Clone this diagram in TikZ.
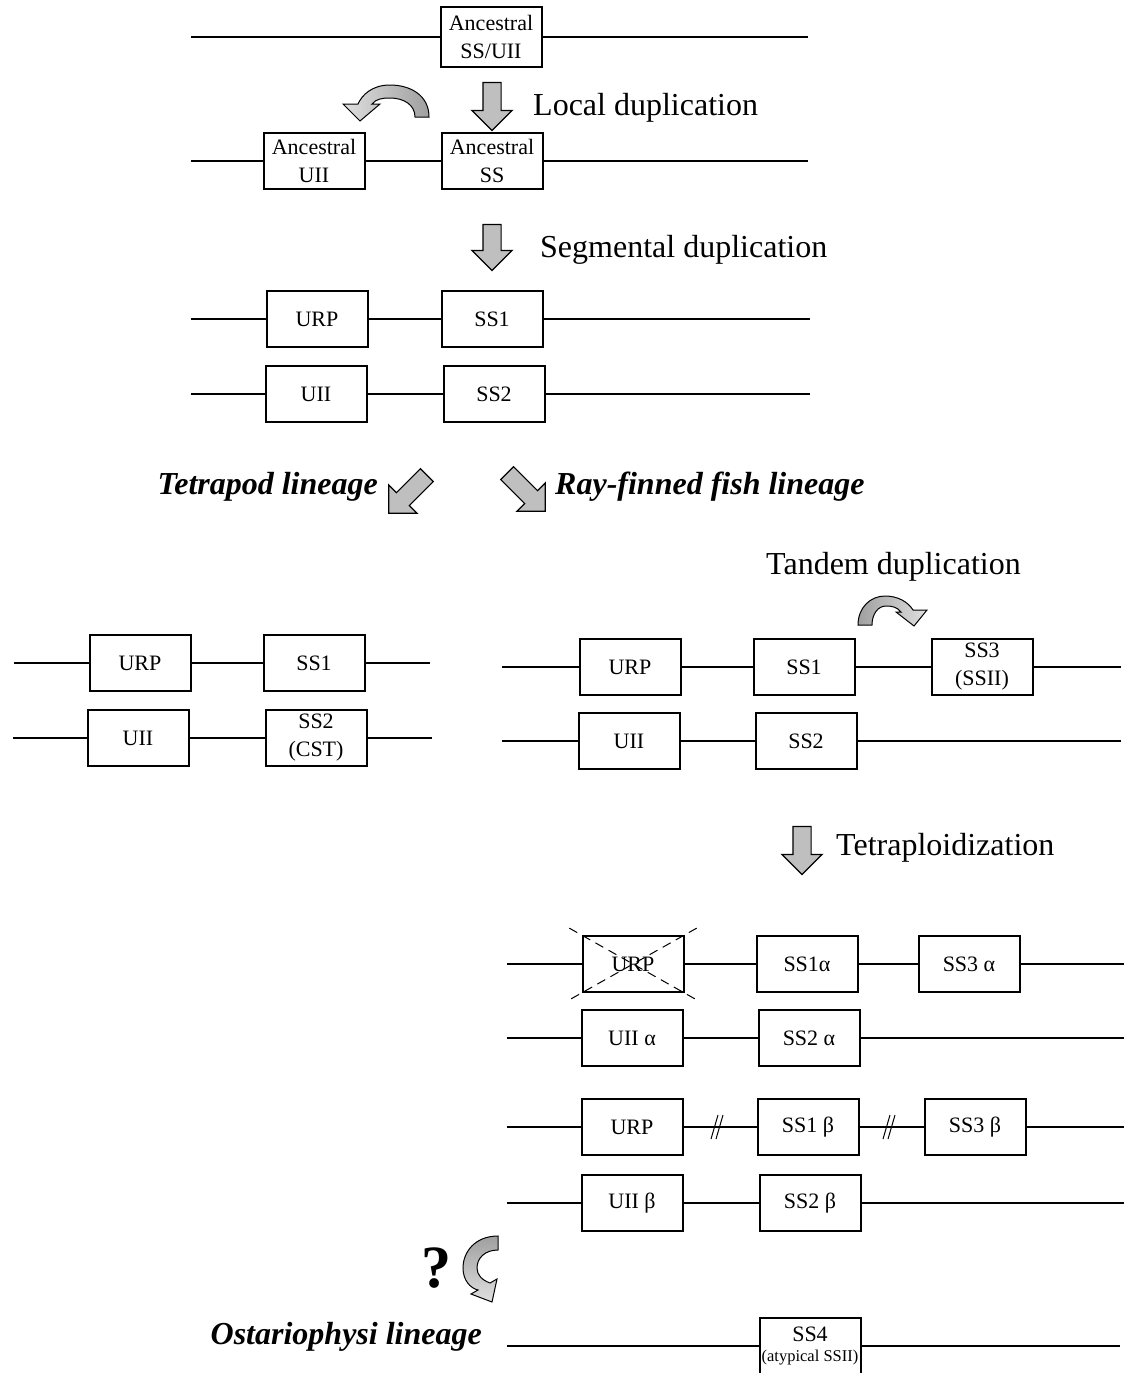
\documentclass[tikz,border=0pt]{standalone}
\usepackage{fontspec}
\setmainfont{Liberation Serif}
\usetikzlibrary{shapes.arrows}
\newcommand\genefont{\fontsize{22}{28}\selectfont}
\newcommand\tinygenefont{\fontsize{16.5}{18}\selectfont}
\newcommand\stepfont{\fontsize{32}{38}\selectfont}
\newcommand\linfont{\fontsize{32}{38}\selectfont\bfseries\itshape}
\newcommand\chrbreak[1]{%
    \draw[line width=1pt] ([shift={(-6,12)}]#1) -- ++(7,-24)
                          ([shift={(-1,12)}]#1) -- ++(7,-24);}
\tikzset{
    %Define style for gene boxes
    gene/.style={
           rectangle,
           draw=black, line width=2pt,
           fill=white,
           minimum width=101pt,
           minimum height=56pt,
           inner sep=0pt,
           align=center,
           font=\genefont},
    %Define style for chromosome lines
    chrom/.style={line width=2pt},
    %Define style for grey block arrows
    blockarrow/.style={
           single arrow,
           draw=black, line width=1.2pt,
           fill=gray!50,
           minimum height=48pt,
           single arrow head extend=11pt,
           inner xsep=0pt,
           inner ysep=8.5pt},
    curvarrow/.style={draw=black, line width=1pt},
    steplabel/.style={font=\stepfont, anchor=base west, inner sep=0pt},
    linlabel/.style={font=\linfont, inner sep=0pt},
    crossout/.style={line width=1pt, dash pattern=on 9pt off 6pt,
           shorten <=-14pt, shorten >=-14pt}
}
\begin{document}
\begin{tikzpicture}[x=1pt,y=-1pt]
\useasboundingbox (0,0) rectangle (1125,1373);
 %ancestral chromosome
\coordinate (c1l) at (191,37);
\coordinate (c1r) at (808,37);
\node[gene, minimum height=60pt] (anc) at (491,37) {Ancestral\\SS/UII};
\draw[chrom] (c1l) -- (anc) -- (c1r);
 %local duplication
\node[blockarrow, rotate=-90] (locarrow) at (492,102) {};
\node[steplabel] (loclabel) at (533,115) {Local duplication};
\path[curvarrow, left color=gray!25, right color=gray!75]
    (429,117) .. controls (429,95) and (410,85) .. (390,85)
    .. controls (372,85) and (362,95) .. (358,104) -- (343,104) -- (360,121)
    -- (380,104) -- (372,104) .. controls (376,99) and (382,98) .. (390,98)
    .. controls (404,98) and (415,105) .. (415,117) -- cycle;
\coordinate (c2l) at (191,161);
\coordinate (c2r) at (808,161);
\node[gene] (ancuii) at (314,161) {Ancestral\\UII};
\node[gene] (ancss) at (492,161) {Ancestral\\SS};
\draw[chrom] (c2l) -- (ancuii) -- (ancss) -- (c2r);
 %segmental duplication
\node[blockarrow, rotate=-90, minimum height=46pt] (segarrow) at (492,243) {};
\node[steplabel] (seglabel) at (540,257) {Segmental duplication};
\coordinate (c3l) at (191,319);
\coordinate (c3r) at (810,319);
\node[gene] (urp3) at (317,319) {URP};
\node[gene] (ss13) at (492,319) {SS1};
\draw[chrom] (c3l) -- (urp3) -- (ss13) -- (c3r);
\coordinate (c4l) at (191,394);
\coordinate (c4r) at (810,394);
\node[gene] (uii4) at (316,394) {UII};
\node[gene] (ss24) at (494,394) {SS2};
\draw[chrom] (c4l) -- (uii4) -- (ss24) -- (c4r);
 %lineages
\node[blockarrow, rotate=-135, minimum height=54pt] (tetarrow) at (411,491) {};
\node[blockarrow, rotate=-45, minimum height=54pt] (rayarrow) at (523,489) {};
\node[linlabel, anchor=base east] (tetlabel) at (378,494) {Tetrapod lineage};
\node[linlabel, anchor=base west] (raylabel) at (555,494) {Ray-finned fish lineage};
 %tetrapods
\coordinate (cal) at (14,663);
\coordinate (car) at (430,663);
\node[gene] (urpa) at (140,663) {URP};
\node[gene] (ss1a) at (314,663) {SS1};
\draw[chrom] (cal) -- (urpa) -- (ss1a) -- (car);
\coordinate (cbl) at (13,738);
\coordinate (cbr) at (432,738);
\node[gene] (uiib) at (138,738) {UII};
\node[gene] (ss2b) at (316,738) {SS2\\(CST)};
\draw[chrom] (cbl) -- (uiib) -- (ss2b) -- (cbr);
 %ray-finned fish
\node[steplabel] (tanlabel) at (766,574) {Tandem duplication};
\path[curvarrow, left color=gray!75, right color=gray!25]
    (858,625) .. controls (858,608) and (870,596) .. (885,596)
    .. controls (898,596) and (908,602) .. (913,610) -- (927,610) -- (914,626)
    -- (896,612) -- (901,612) .. controls (897,607) and (892,606) .. (886,606)
    .. controls (878,606) and (872,614) .. (872,625) -- cycle;
\coordinate (ccl) at (502,667);
\coordinate (ccr) at (1121,667);
\node[gene] (urpc) at (630,667) {URP};
\node[gene] (ss1c) at (804,667) {SS1};
\node[gene] (ss3c) at (982,667) {SS3\\(SSII)};
\draw[chrom] (ccl) -- (urpc) -- (ss1c) -- (ss3c) -- (ccr);
\coordinate (cdl) at (502,741);
\coordinate (cdr) at (1121,741);
\node[gene] (uiid) at (629,741) {UII};
\node[gene] (ss2d) at (806,741) {SS2};
\draw[chrom] (cdl) -- (uiid) -- (ss2d) -- (cdr);
 %tetraploidization
\node[blockarrow, rotate=-90] (tetrarrow) at (802,846) {};
\node[steplabel] (tetrlabel) at (836,855) {Tetraploidization};
\coordinate (cel) at (507,964);
\coordinate (cer) at (1124,964);
\node[gene] (urpe) at (633,964) {URP};
\node[gene] (ss1e) at (807,964) {SS1α};
\node[gene] (ss3e) at (969,964) {SS3 α};
\draw[chrom] (cel) -- (urpe) -- (ss1e) -- (ss3e) -- (cer);
\draw[crossout] (urpe.north west) -- (urpe.south east);
\draw[crossout] (urpe.north east) -- (urpe.south west);
\coordinate (cfl) at (507,1038);
\coordinate (cfr) at (1124,1038);
\node[gene] (uiif) at (632,1038) {UII α};
\node[gene] (ss2f) at (809,1038) {SS2 α};
\draw[chrom] (cfl) -- (uiif) -- (ss2f) -- (cfr);
\coordinate (cgl) at (507,1127);
\coordinate (cgr) at (1124,1127);
\node[gene] (urpg) at (632,1127) {URP};
\node[gene] (ss1g) at (808,1127) {SS1 β};
\node[gene] (ss3g) at (975,1127) {SS3 β};
\draw[chrom] (cgl) -- (urpg) -- (ss1g) -- (ss3g) -- (cgr);
\coordinate (brk1) at (717,1127);
\coordinate (brk2) at (889,1127);
\chrbreak{brk1}
\chrbreak{brk2}
\coordinate (chl) at (507,1203);
\coordinate (chr) at (1124,1203);
\node[gene] (uiih) at (632,1203) {UII β};
\node[gene] (ss2h) at (810,1203) {SS2 β};
\draw[chrom] (chl) -- (uiih) -- (ss2h) -- (chr);
 %ostariophysi
\node[font=\fontsize{60}{60}\selectfont\bfseries, inner sep=0pt] (quest) at (436,1268) {?};
\path[curvarrow, top color=gray!75, bottom color=gray!25]
    (498,1236) .. controls (475,1236) and (463,1252) .. (463,1268)
    .. controls (463,1280) and (470,1288) .. (478,1290) -- (471,1294) -- (492,1302)
    -- (497,1279) -- (490,1283) .. controls (482,1280) and (477,1275) .. (477,1268)
    .. controls (477,1258) and (485,1250) .. (498,1250) -- cycle;
\coordinate (cil) at (507,1346);
\coordinate (cir) at (1120,1346);
\node[gene] (ss4i) at (810,1346) {SS4\\[-8pt]{\tinygenefont (atypical SSII)}};
\draw[chrom] (cil) -- (ss4i) -- (cir);
\node[linlabel, anchor=base east] (ostlabel) at (482,1344) {Ostariophysi lineage};
\end{tikzpicture}
\end{document}
